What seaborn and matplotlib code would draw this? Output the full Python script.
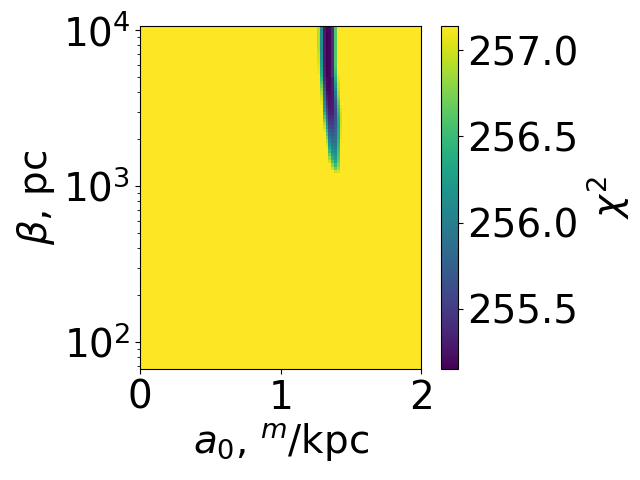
import numpy as np
import matplotlib
matplotlib.use("Agg")
import matplotlib.pyplot as plt
import seaborn as sns

# grid of the scan: a0 in [0, 2] (100 cells), beta log-spaced (100 cells)
a0_edges = np.linspace(0, 2, 101)
beta_edges = np.geomspace(67, 10650, 101)

chi2_background = 257.14
chi2_min, chi2_max = 255.15, 257.14

# band of low chi^2: columns 63..71 (a0 = 1.26 .. 1.44),
# rows listed from the top (largest beta) downwards
band_first_col = 63
band_chi2 = [
    [256.90, 256.10, 255.30, 255.15, 255.18, 255.40, 256.60, 257.14, 257.14],
    [256.90, 256.10, 255.30, 255.15, 255.18, 255.40, 256.60, 257.14, 257.14],
    [256.90, 256.10, 255.30, 255.15, 255.18, 255.40, 256.60, 257.14, 257.14],
    [256.90, 256.10, 255.30, 255.15, 255.18, 255.40, 256.60, 257.14, 257.14],
    [256.90, 256.10, 255.30, 255.15, 255.18, 255.40, 256.60, 257.14, 257.14],
    [256.90, 256.10, 255.30, 255.15, 255.18, 255.40, 256.60, 257.14, 257.14],
    [256.90, 256.10, 255.30, 255.15, 255.18, 255.40, 256.60, 257.14, 257.14],
    [256.95, 256.10, 255.30, 255.15, 255.18, 255.40, 256.60, 257.14, 257.14],
    [256.98, 256.15, 255.30, 255.15, 255.18, 255.40, 256.60, 257.14, 257.14],
    [257.00, 256.15, 255.30, 255.15, 255.18, 255.40, 256.60, 257.14, 257.14],
    [257.03, 256.20, 255.32, 255.15, 255.18, 255.40, 256.60, 257.14, 257.14],
    [257.06, 256.25, 255.32, 255.15, 255.18, 255.40, 256.60, 257.14, 257.14],
    [257.08, 256.30, 255.35, 255.15, 255.18, 255.40, 256.55, 257.14, 257.14],
    [257.10, 256.35, 255.35, 255.15, 255.18, 255.40, 256.50, 257.14, 257.14],
    [257.14, 256.40, 255.38, 255.15, 255.18, 255.40, 256.45, 257.10, 257.14],
    [257.14, 256.50, 255.42, 255.20, 255.18, 255.30, 256.35, 257.05, 257.14],
    [257.14, 256.60, 255.50, 255.20, 255.18, 255.30, 256.25, 257.00, 257.14],
    [257.14, 256.70, 255.60, 255.20, 255.18, 255.30, 256.15, 256.95, 257.14],
    [257.14, 256.80, 255.70, 255.20, 255.20, 255.30, 256.05, 256.90, 257.14],
    [257.14, 256.90, 255.80, 255.25, 255.20, 255.28, 255.95, 256.85, 257.14],
    [257.14, 256.97, 255.90, 255.30, 255.22, 255.28, 255.85, 256.80, 257.14],
    [257.14, 257.03, 256.00, 255.35, 255.24, 255.28, 255.78, 256.70, 257.14],
    [257.14, 257.08, 256.10, 255.40, 255.26, 255.30, 255.70, 256.62, 257.14],
    [257.14, 257.12, 256.20, 255.50, 255.28, 255.30, 255.65, 256.55, 257.10],
    [257.14, 257.14, 256.30, 255.60, 255.30, 255.32, 255.62, 256.50, 257.05],
    [257.14, 257.14, 256.45, 255.70, 255.33, 255.35, 255.60, 256.45, 257.02],
    [257.14, 257.14, 256.60, 255.85, 255.38, 255.40, 255.62, 256.40, 257.00],
    [257.14, 257.14, 256.75, 256.00, 255.45, 255.45, 255.65, 256.38, 257.00],
    [257.14, 257.14, 256.88, 256.15, 255.52, 255.50, 255.68, 256.36, 257.00],
    [257.14, 257.14, 256.98, 256.30, 255.60, 255.55, 255.72, 256.36, 257.02],
    [257.14, 257.14, 257.08, 256.45, 255.70, 255.62, 255.76, 256.38, 257.04],
    [257.14, 257.14, 257.14, 256.60, 255.80, 255.70, 255.80, 256.40, 257.06],
    [257.14, 257.14, 257.14, 256.75, 255.92, 255.78, 255.85, 256.42, 257.08],
    [257.14, 257.14, 257.14, 256.90, 256.05, 255.86, 255.90, 256.45, 257.10],
    [257.14, 257.14, 257.14, 257.02, 256.20, 255.95, 255.95, 256.48, 257.12],
    [257.14, 257.14, 257.14, 257.10, 256.35, 256.05, 256.00, 256.52, 257.14],
    [257.14, 257.14, 257.14, 257.14, 256.50, 256.15, 256.08, 256.56, 257.14],
    [257.14, 257.14, 257.14, 257.14, 256.68, 256.28, 256.15, 256.60, 257.14],
    [257.14, 257.14, 257.14, 257.14, 256.85, 256.42, 256.25, 256.65, 257.14],
    [257.14, 257.14, 257.14, 257.14, 257.00, 256.58, 256.35, 256.70, 257.14],
    [257.14, 257.14, 257.14, 257.14, 257.14, 256.78, 256.50, 256.78, 257.14],
    [257.14, 257.14, 257.14, 257.14, 257.14, 256.98, 256.70, 256.88, 257.14],
    [257.14, 257.14, 257.14, 257.14, 257.14, 257.14, 257.00, 257.02, 257.14],
]

cbar_ticks = [255.5, 256.0, 256.5, 257.0]

# assemble the map (row 0 of the table = top row of the plot)
chi2 = np.full((len(beta_edges) - 1, len(a0_edges) - 1), chi2_background)
band = np.array(band_chi2)
n_rows, n_cols = band.shape
top = chi2.shape[0] - 1
for k in range(n_rows):
    chi2[top - k, band_first_col:band_first_col + n_cols] = band[k]

sns.set_style("ticks", {"text.color": "black", "axes.labelcolor": "black",
                        "xtick.color": "black", "ytick.color": "black",
                        "axes.edgecolor": "black"})
plt.rcParams["font.family"] = ["DejaVu Sans"]

fig = plt.figure(figsize=(6.4, 4.8), dpi=100)
ax = fig.add_axes([0.219, 0.231, 0.439, 0.715])
cax = fig.add_axes([0.689, 0.231, 0.026, 0.715])

mesh = ax.pcolormesh(a0_edges, beta_edges, chi2,
                     cmap=sns.color_palette("viridis", as_cmap=True),
                     vmin=chi2_min, vmax=chi2_max, antialiased=True)
ax.set_yscale("log")
ax.set_xlim(0, 2)
ax.set_ylim(beta_edges[0], beta_edges[-1])
ax.set_xticks([0, 1, 2])
ax.tick_params(labelsize=28)
ax.set_xlabel(r"$a_0$, $^m$/kpc", fontsize=28)
ax.set_ylabel(r"$\beta$, pc", fontsize=28)

cb = fig.colorbar(mesh, cax=cax, ticks=cbar_ticks, format="%.1f")
cb.ax.tick_params(labelsize=28)
cb.set_label(r"$\chi^2$", fontsize=28)

fig.savefig("out.png", dpi=100)
